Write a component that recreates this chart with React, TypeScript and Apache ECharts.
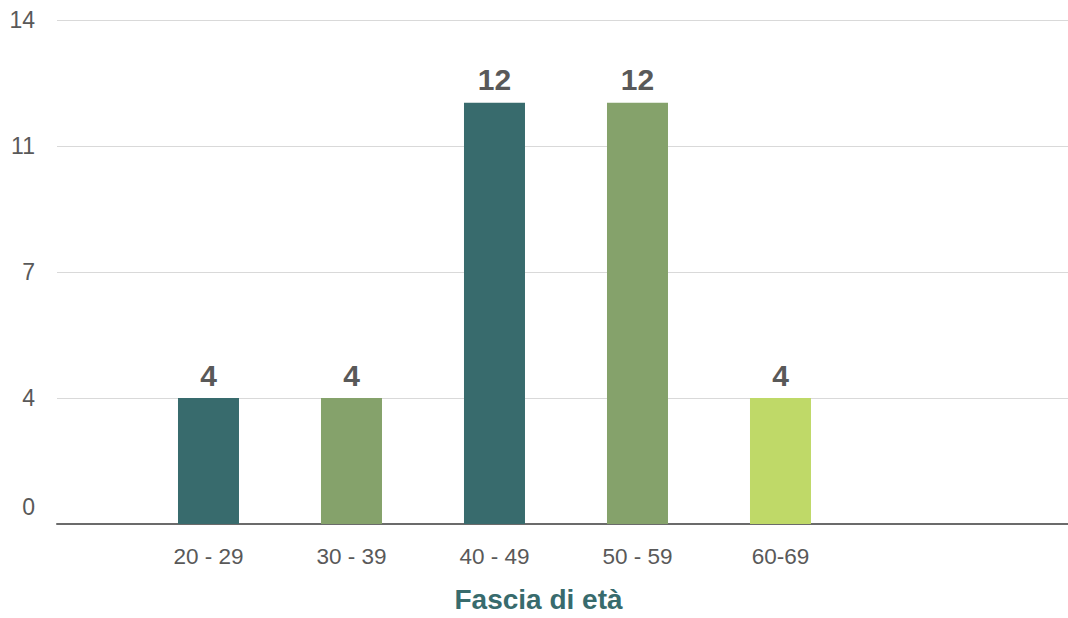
import React, { useEffect, useRef } from "react";
import * as echarts from "echarts";

const categories = ["20 - 29", "30 - 39", "40 - 49", "50 - 59", "60-69"];
const values = [3.5, 3.5, 11.7, 11.7, 3.5];
const barColors = ["#386b6d", "#85a26b", "#386b6d", "#85a26b", "#bfd968"];
const yTickLabels = ["0", "4", "7", "11", "14"];
const xAxisTitle = "Fascia di età";

const FONT = '"Liberation Sans", Arial, Helvetica, sans-serif';
const GREY = "#595959";

export default function App() {
  const ref = useRef<HTMLDivElement>(null);

  useEffect(() => {
    if (!ref.current) return;
    const chart = echarts.init(ref.current, null, { renderer: "svg" });
    const positions = categories.map((_, i) => i + 1);
    const data = values.map((v, i) => ({
      value: [positions[i], v],
      itemStyle: { color: barColors[i] },
    }));
    chart.setOption({
      animation: false,
      backgroundColor: "#ffffff",
      grid: { left: 57, right: 0, top: 20, bottom: 93, containLabel: false },
      xAxis: {
        type: "value",
        min: -0.0594,
        max: 7.0106,
        splitLine: { show: false },
        axisTick: { show: false },
        axisLine: { show: true, onZero: false, lineStyle: { color: "#6b6b6b", width: 2 } },
        axisLabel: {
          customValues: positions,
          showMinLabel: true,
          showMaxLabel: true,
          margin: 21,
          fontSize: 22.5,
          fontFamily: FONT,
          color: GREY,
          formatter: (v: number) => categories[Math.round(v) - 1] ?? "",
        },
        name: xAxisTitle,
        nameLocation: "middle",
        nameGap: 61,
        nameTextStyle: {
          fontSize: 28,
          fontWeight: 600,
          fontFamily: FONT,
          color: "#386b6d",
          padding: [0, 48, 0, 0],
        },
      },
      yAxis: {
        type: "value",
        min: 0,
        max: 14,
        interval: 3.5,
        axisLine: { show: false },
        axisTick: { show: false },
        splitLine: { show: true, lineStyle: { color: "#d9d9d9", width: 1 } },
        axisLabel: {
          margin: 22,
          fontSize: 23,
          fontFamily: FONT,
          color: GREY,
          formatter: (v: number) => {
            const label = yTickLabels[Math.round(v / 3.5)] ?? "";
            return v === 0 ? "{z|" + label + "}" : "{n|" + label + "}";
          },
          rich: {
            z: { fontSize: 23, fontFamily: FONT, color: GREY, padding: [0, 0, 34, 0] },
            n: { fontSize: 23, fontFamily: FONT, color: GREY },
          },
        },
      },
      series: [
        {
          type: "bar",
          data,
          barWidth: 61,
          label: {
            show: true,
            position: "top",
            distance: 8,
            fontSize: 30,
            fontWeight: "bold",
            fontFamily: FONT,
            color: GREY,
            formatter: (p: any) => String(Math.round(p.value[1])),
          },
        },
      ],
    });
    return () => chart.dispose();
  }, []);

  return (
    <div
      ref={ref}
      style={{ position: "fixed", left: 0, top: 0, width: 1068, height: 618 }}
    />
  );
}
